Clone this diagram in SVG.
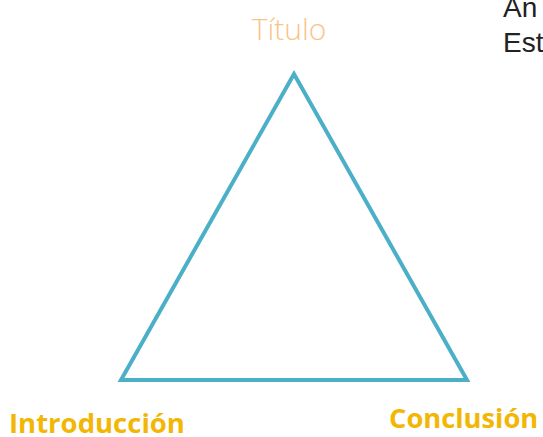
<svg xmlns="http://www.w3.org/2000/svg" width="543" height="437" viewBox="0 0 543 437">
<style>
.lbl{font-family:"Open Sans",sans-serif}
.side{font-family:"Liberation Sans",Arial,sans-serif;font-size:28px;fill:#222}
</style>
<rect width="543" height="437" fill="#fff"/>
<g id="connectors">
<polygon points="294,74 121,380 467,380" fill="none" stroke="#4BAFC8" stroke-width="4" stroke-linejoin="miter"/>
</g>
<g id="titulo"><text class="lbl" x="289" y="40" text-anchor="middle" font-size="30" font-weight="300" fill="#F9C48A">Título</text></g>
<g id="introduccion"><text class="lbl" x="9" y="433" font-size="27.5" font-weight="700" fill="#F2B705">Introducción</text></g>
<g id="conclusion"><text class="lbl" x="389" y="428" font-size="27.3" font-weight="700" fill="#F2B705">Conclusión</text></g>
<g id="side"><text class="side" x="503" y="17">An</text><text class="side" x="503" y="52">Est</text></g>
</svg>
